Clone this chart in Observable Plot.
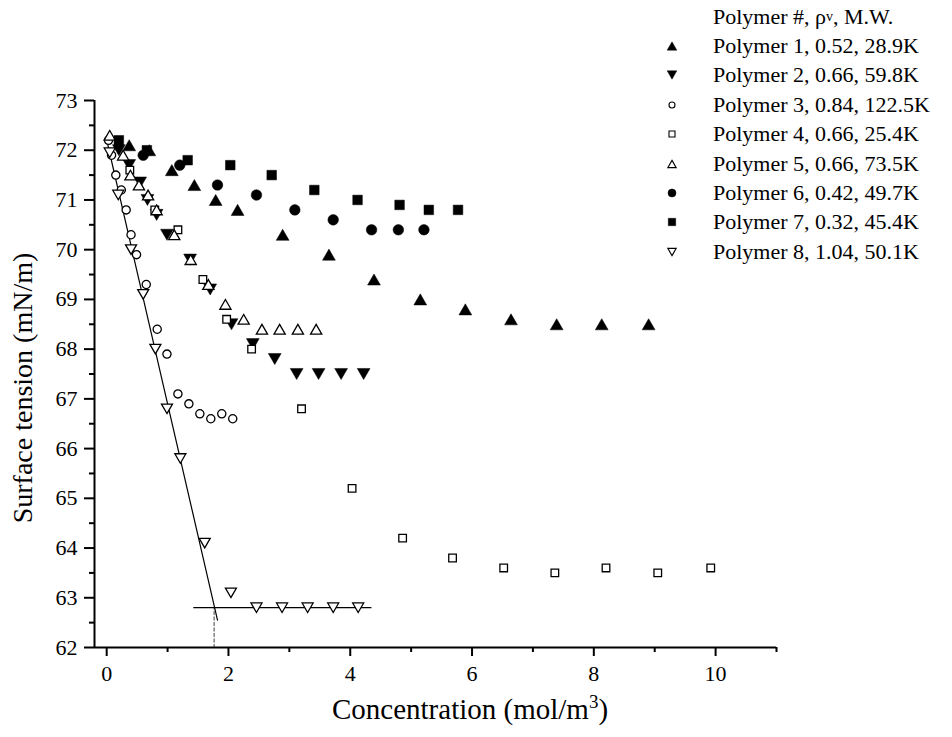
<!DOCTYPE html>
<html>
<head>
<meta charset="utf-8">
<script src="https://cdn.jsdelivr.net/npm/d3@7"></script>
<script src="https://cdn.jsdelivr.net/npm/@observablehq/plot@0.6"></script>
<style>
  body { margin: 0; background: #fff; }
  #wrap { position: relative; width: 952px; height: 737px; font-family: "Liberation Serif", "DejaVu Serif", serif; color: #000; overflow: hidden; }
  #chart { position: absolute; left: 0; top: 0; }
  #chart svg text { font-family: "Liberation Serif", "DejaVu Serif", serif; }
  .ytitle { position: absolute; left: 23px; top: 388px; transform: translate(-50%, -50%) rotate(-90deg); white-space: nowrap; font-size: 28px; line-height: 1; }
  .xtitle { position: absolute; left: 470px; top: 709px; transform: translate(-50%, -50%); white-space: nowrap; font-size: 29px; line-height: 1; }
  .xtitle sup { font-size: 19px; vertical-align: 11px; line-height: 0; }
  #legend { position: absolute; left: 662px; top: 2px; font-size: 22px; }
  #legend .row { height: 29.4px; display: flex; align-items: center; white-space: nowrap; }
  #legend .row svg { width: 20px; height: 20px; margin-right: 31px; flex: none; }
  #legend .hdr { padding-left: 51px; }
  #legend sub { font-size: 14px; vertical-align: -5px; line-height: 0; }
</style>
</head>
<body>
<div id="wrap">
  <div id="chart"></div>
  <div class="ytitle">Surface tension (mN/m)</div>
  <div class="xtitle">Concentration (mol/m<sup>3</sup>)</div>
  <div id="legend"></div>
</div>
<script>
// ---------- data ----------
const xDomain = [-0.2, 11];
const yDomain = [62, 73];
const xMajorTicks = [0, 2, 4, 6, 8, 10];
const xMinorTicks = [1, 3, 5, 7, 9, 11];
const yMajorTicks = [62, 63, 64, 65, 66, 67, 68, 69, 70, 71, 72, 73];
const yMinorTicks = [62.5, 63.5, 64.5, 65.5, 66.5, 67.5, 68.5, 69.5, 70.5, 71.5, 72.5];

const legendTitle = "Polymer #, ρ<sub>v</sub>, M.W.";
const seriesNames = [
  "Polymer 1, 0.52, 28.9K",
  "Polymer 2, 0.66, 59.8K",
  "Polymer 3, 0.84, 122.5K",
  "Polymer 4, 0.66, 25.4K",
  "Polymer 5, 0.66, 73.5K",
  "Polymer 6, 0.42, 49.7K",
  "Polymer 7, 0.32, 45.4K",
  "Polymer 8, 1.04, 50.1K"
];

const p1x = [0.37, 0.70, 1.07, 1.44, 1.79, 2.15, 2.89, 3.65, 4.39, 5.15, 5.89, 6.64, 7.39, 8.13, 8.90];
const p1y = [72.1, 72.0, 71.6, 71.3, 71.0, 70.8, 70.3, 69.9, 69.4, 69.0, 68.8, 68.6, 68.5, 68.5, 68.5];

const p2x = [0.20, 0.37, 0.55, 0.67, 0.82, 0.99, 1.37, 1.70, 2.05, 2.40, 2.76, 3.12, 3.48, 3.85, 4.22];
const p2y = [72.0, 71.7, 71.35, 71.0, 70.7, 70.3, 69.8, 69.2, 68.5, 68.1, 67.8, 67.5, 67.5, 67.5, 67.5];

const p3x = [0.03, 0.08, 0.15, 0.24, 0.32, 0.40, 0.49, 0.65, 0.83, 0.99, 1.17, 1.35, 1.53, 1.71, 1.89, 2.07];
const p3y = [72.2, 71.9, 71.5, 71.2, 70.8, 70.3, 69.9, 69.3, 68.4, 67.9, 67.1, 66.9, 66.7, 66.6, 66.7, 66.6];

const p4x = [0.38, 0.79, 1.17, 1.58, 1.97, 2.38, 3.20, 4.03, 4.86, 5.68, 6.52, 7.36, 8.20, 9.05, 9.92];
const p4y = [71.6, 70.8, 70.4, 69.4, 68.6, 68.0, 66.8, 65.2, 64.2, 63.8, 63.6, 63.5, 63.6, 63.5, 63.6];

const p5x = [0.05, 0.27, 0.39, 0.53, 0.68, 0.82, 1.11, 1.38, 1.67, 1.95, 2.25, 2.55, 2.84, 3.14, 3.44];
const p5y = [72.3, 71.9, 71.5, 71.3, 71.1, 70.8, 70.3, 69.8, 69.3, 68.9, 68.6, 68.4, 68.4, 68.4, 68.4];

const p6x = [0.60, 1.20, 1.82, 2.46, 3.09, 3.72, 4.35, 4.79, 5.21];
const p6y = [71.9, 71.7, 71.3, 71.1, 70.8, 70.6, 70.4, 70.4, 70.4];

const p7x = [0.20, 0.66, 1.33, 2.03, 2.71, 3.41, 4.12, 4.81, 5.29, 5.77];
const p7y = [72.2, 72.0, 71.8, 71.7, 71.5, 71.2, 71.0, 70.9, 70.8, 70.8];

const p8x = [0.05, 0.19, 0.40, 0.60, 0.80, 0.99, 1.21, 1.61, 2.04, 2.46, 2.88, 3.30, 3.72, 4.13];
const p8y = [71.95, 71.1, 70.0, 69.1, 68.0, 66.8, 65.8, 64.1, 63.1, 62.8, 62.8, 62.8, 62.8, 62.8];

// fitted lines for Polymer 8
const fitSlopeX = [0.02, 1.82];
const fitSlopeY = [72.1, 62.55];
const fitFlatX = [1.43, 4.34];
const fitFlatY = [62.8, 62.8];
const cmcX = [1.765, 1.765];
const cmcY = [62.0, 62.8];

// ---------- symbols ----------
const triUp = { draw(ctx, size) { const r = Math.sqrt(size / Math.PI); const h = r * 1.732; ctx.moveTo(0, -h / 2); ctx.lineTo(r, h / 2); ctx.lineTo(-r, h / 2); ctx.closePath(); } };
const triDown = { draw(ctx, size) { const r = Math.sqrt(size / Math.PI); const h = r * 1.732; ctx.moveTo(0, h / 2); ctx.lineTo(r, -h / 2); ctx.lineTo(-r, -h / 2); ctx.closePath(); } };
const sq = { draw(ctx, size) { const r = Math.sqrt(size / Math.PI); ctx.moveTo(-r, -r); ctx.lineTo(r, -r); ctx.lineTo(r, r); ctx.lineTo(-r, r); ctx.closePath(); } };
const circ = { draw(ctx, size) { const r = Math.sqrt(size / Math.PI); ctx.moveTo(r, 0); ctx.arc(0, 0, r, 0, 2 * Math.PI); ctx.closePath(); } };

const styles = [
  { sym: triUp,   filled: true,  r: 6.4, lr: 4.8 },
  { sym: triDown, filled: true,  r: 6.4, lr: 4.8 },
  { sym: circ,    filled: false, r: 4.1, lr: 3.0 },
  { sym: sq,      filled: false, r: 3.8, lr: 3.0 },
  { sym: triUp,   filled: false, r: 5.6, lr: 4.2 },
  { sym: circ,    filled: true,  r: 5.3, lr: 4.0 },
  { sym: sq,      filled: true,  r: 4.8, lr: 3.7 },
  { sym: triDown, filled: false, r: 5.5, lr: 4.2 }
];
const xs = [p1x, p2x, p3x, p4x, p5x, p6x, p7x, p8x];
const ys = [p1y, p2y, p3y, p4y, p5y, p6y, p7y, p8y];

const series = seriesNames.map((name, k) => ({
  name, style: styles[k],
  data: xs[k].map((x, i) => ({ x, y: ys[k][i] }))
}));

const toPts = (a, b) => a.map((x, i) => ({ x, y: b[i] }));

const dotMarks = series.map(s => Plot.dot(s.data, {
  x: "x", y: "y",
  symbol: s.style.sym,
  r: s.style.r,
  fill: s.style.filled ? "black" : "white",
  stroke: "black",
  strokeWidth: s.style.filled ? 0.5 : 1.3
}));

const serif = "Liberation Serif, DejaVu Serif, serif";
const chart = Plot.plot({
  width: 952,
  height: 737,
  marginLeft: 94,
  marginRight: 176,
  marginTop: 100,
  marginBottom: 90,
  style: { fontFamily: serif, fontSize: "22px", color: "black", background: "transparent", overflow: "visible" },
  x: { domain: xDomain },
  y: { domain: yDomain },
  marks: [
    Plot.line(toPts(cmcX, cmcY), { x: "x", y: "y", stroke: "#777", strokeWidth: 1.4, strokeDasharray: "3,2.5" }),
    Plot.line(toPts(fitSlopeX, fitSlopeY), { x: "x", y: "y", stroke: "black", strokeWidth: 1.2 }),
    Plot.line(toPts(fitFlatX, fitFlatY), { x: "x", y: "y", stroke: "black", strokeWidth: 1.2 }),
    ...dotMarks,
    Plot.ruleY([yDomain[0]], { stroke: "black", strokeWidth: 2 }),
    Plot.ruleX([xDomain[0]], { stroke: "black", strokeWidth: 2 }),
    Plot.axisX(xMajorTicks, { tickSize: 9, tickPadding: 9, strokeWidth: 2, fontSize: 22, fontFamily: serif, tickFormat: d => String(d), label: null }),
    Plot.axisX(xMinorTicks, { tickSize: 5, strokeWidth: 2, tickFormat: () => "", label: null }),
    Plot.axisY(yMajorTicks, { tickSize: 10, tickPadding: 7, strokeWidth: 2, fontSize: 22, fontFamily: serif, tickFormat: d => String(d), label: null }),
    Plot.axisY(yMinorTicks, { tickSize: 5, strokeWidth: 2, tickFormat: () => "", label: null })
  ]
});
document.getElementById("chart").appendChild(chart);

// ---------- legend ----------
const legend = document.getElementById("legend");
const hdr = document.createElement("div");
hdr.className = "row hdr";
hdr.innerHTML = legendTitle;
legend.appendChild(hdr);
const NS = "http://www.w3.org/2000/svg";
series.forEach(s => {
  const row = document.createElement("div");
  row.className = "row";
  const svg = document.createElementNS(NS, "svg");
  svg.setAttribute("viewBox", "-10 -10 20 20");
  const path = document.createElementNS(NS, "path");
  const p = d3.path();
  s.style.sym.draw(p, s.style.lr * s.style.lr * Math.PI);
  path.setAttribute("d", p.toString());
  path.setAttribute("fill", s.style.filled ? "black" : "white");
  path.setAttribute("stroke", "black");
  path.setAttribute("stroke-width", s.style.filled ? 0.5 : 1.1);
  svg.appendChild(path);
  row.appendChild(svg);
  const span = document.createElement("span");
  span.textContent = s.name;
  row.appendChild(span);
  legend.appendChild(row);
});
</script>
</body>
</html>
